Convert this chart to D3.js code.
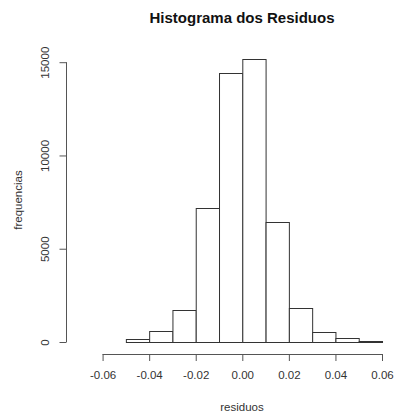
<!DOCTYPE html>
<html><head><meta charset="utf-8">
<script src="https://cdn.jsdelivr.net/npm/d3@7"></script>
<style>body{margin:0;background:#fff}svg{display:block}text{font-family:"Liberation Sans",Arial,sans-serif}</style>
</head><body><svg id="c" width="400" height="414"></svg>
<script>
const binStarts = [-0.07,-0.06,-0.05,-0.04,-0.03,-0.02,-0.01,0.00,0.01,0.02,0.03,0.04,0.05,0.06];
const counts    = [0,0,150,600,1720,7170,14400,15180,6420,1800,520,200,40,0];
const binWidth = 0.01;
const xTicks = [-0.06,-0.04,-0.02,0.00,0.02,0.04,0.06];
const yTicks = [0,5000,10000,15000];

const svg = d3.select("#c");
const x = d3.scaleLinear().domain([-0.07,0.07]).range([79.3,405.3]);
const y = d3.scaleLinear().domain([0,15000]).range([342,62.2]);

svg.append("text").attr("x",242).attr("y",23).attr("text-anchor","middle")
  .attr("font-size",15).attr("font-weight","bold").attr("fill","#111").text("Histograma dos Residuos");

svg.append("g").selectAll("rect").data(binStarts).join("rect")
  .attr("x",(d)=>x(d)+0.5).attr("width",(d)=>x(d+binWidth)-x(d))
  .attr("y",(d,i)=>Math.round(y(counts[i]))+0.5)
  .attr("height",(d,i)=>342-Math.round(y(counts[i])))
  .attr("fill","#fff").attr("stroke","#333").attr("stroke-width",1);

const xa = svg.append("g").attr("transform","translate(0,354)")
  .call(d3.axisBottom(x).tickValues(xTicks).tickSize(7).tickPadding(10).tickFormat(d3.format(".2f")));
xa.select(".domain").attr("stroke","#555").attr("d",`M${x(-0.06)},0.5H${x(0.06)}`);
xa.selectAll(".tick line").attr("stroke","#555");
xa.selectAll("text").attr("font-size",11.5).attr("fill","#333").attr("font-family","Liberation Sans, Arial, sans-serif")
  .text(d=>d3.format(".2f")(d).replace("−","-"));

const ya = svg.append("g").attr("transform","translate(66.5,0)")
  .call(d3.axisLeft(y).tickValues(yTicks).tickSize(7).tickFormat(d3.format("d")));
ya.select(".domain").attr("stroke","#555").attr("d",`M0,${y(0)}V${y(15000)}`);
ya.selectAll(".tick line").attr("stroke","#555");
ya.selectAll(".tick text").attr("font-size",11.5).attr("fill","#333").attr("font-family","Liberation Sans, Arial, sans-serif")
  .attr("transform","rotate(-90)").attr("x",0).attr("y",-21).attr("dy","0.32em").attr("text-anchor","middle");

svg.append("text").attr("x",242).attr("y",411).attr("text-anchor","middle")
  .attr("font-size",11.5).attr("fill","#333").text("residuos");
svg.append("text").attr("transform","translate(22,200) rotate(-90)").attr("text-anchor","middle")
  .attr("font-size",11.5).attr("fill","#333").text("frequencias");
</script></body></html>
